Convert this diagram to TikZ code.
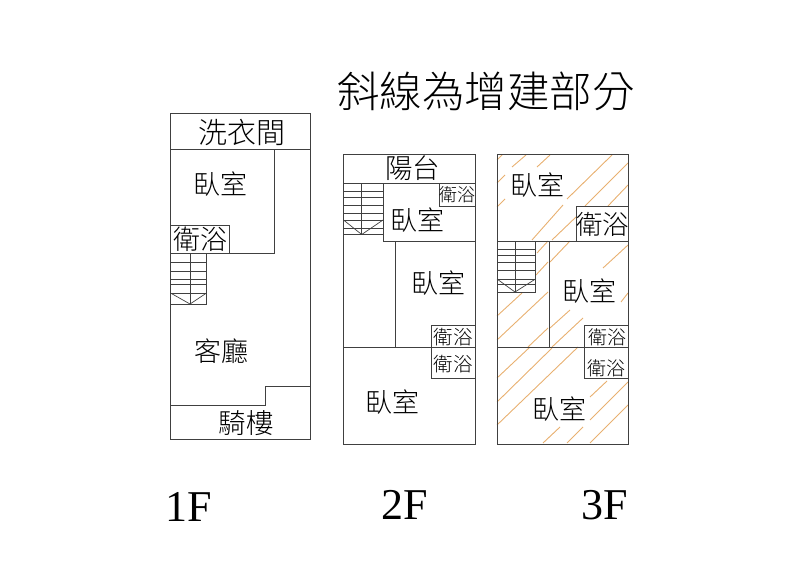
\documentclass[tikz,border=0pt]{standalone}
\usepackage{fontspec}
\setmainfont{Liberation Serif}
\newfontfamily\cjk{Noto Sans CJK TC Light}
\definecolor{hatchcol}{RGB}{232,176,112}
\tikzset{
  wall/.style={draw=black!75,line width=0.9pt,line cap=rect},
  tread/.style={draw=black!75,line width=0.7pt},
  hatch/.style={draw=hatchcol,line width=0.9pt},
  lbl/.style={inner sep=0pt,font=\cjk\fontsize{#1}{#1}\selectfont,text=black},
  flr/.style={inner sep=0pt,anchor=base,font=\fontsize{44}{44}\selectfont,text=black},
}
\begin{document}
\begin{tikzpicture}[x=1pt,y=-1pt]
\useasboundingbox (0,0) rectangle (800,565);
% hatch of 3F
\foreach \a/\b/\c/\d in {
 497/160/502.5/154.5, 497/183/505/175, 497/207/505/199,
 512/167/526/155, 537/167/550/155, 567/199/612/155,
 585/206/628/163, 608/206/628/185,
 532/240/563/205, 552/240/576/217,
 537/253/548/241, 536/275/548/262, 550/262/570/241,
 603/268/628/245, 621/302/628/293,
 497/316/522/293, 497/340/548/292,
 528/347/548/328, 550/328/570/310, 552/347/583/318,
 497/378/530/347, 497/402/552/348, 497/425/578/347,
 543/443/560/427, 567/443/583/427,
 590/397/607/381, 590/420/628/382, 590/443/628/405
}{\draw[hatch] (\a,\b) -- (\c,\d);}
% 1F
\draw[wall] (170.5,113.5) rectangle (310.5,439);
\draw[wall] (170.5,149) -- (310.5,149);
\draw[wall] (274,149) -- (274,253) -- (170.5,253);
\draw[wall] (170.5,225.5) -- (229,225.5) -- (229,253);
\draw[wall] (170.5,405) -- (265,405) -- (265,386) -- (310.5,386);
\draw[tread] (206.5,253) -- (206.5,304) -- (170.5,304) (190,253) -- (190,304);
\foreach \y in {262,271,279,284,293} {\draw[tread] (170.5,\y) -- (206.5,\y);}
\draw[tread] (170.5,293) -- (190,304) -- (206.5,293);
% 2F
\draw[wall] (343.5,154) rectangle (475,444);
\draw[wall] (343.5,183) -- (475,183);
\draw[wall] (383,183) -- (383,241) -- (475,241);
\draw[wall] (395.5,241) -- (395.5,347);
\draw[wall] (343.5,347) -- (475,347);
\draw[wall] (439.5,183) -- (439.5,206) -- (475,206);
\draw[wall] (475,325.5) -- (431,325.5) -- (431,378) -- (475,378);
\draw[tread] (343.5,234.5) -- (383,234.5) (361.7,183) -- (361.7,234.5);
\foreach \y in {191,197,205,213,220,228} {\draw[tread] (343.5,\y) -- (383,\y);}
\draw[tread] (343.5,220) -- (361.7,234.5) -- (383,220);
% 3F
\draw[wall] (497,154) rectangle (628.5,444);
\draw[wall] (497,241) -- (628.5,241);
\draw[wall] (628.5,206) -- (576,206) -- (576,241);
\draw[wall] (549,241) -- (549,347);
\draw[wall] (497,347) -- (628.5,347);
\draw[wall] (628.5,325.5) -- (584,325.5) -- (584,378) -- (628.5,378);
\draw[tread] (535.5,241) -- (535.5,292) -- (497,292) (515,241) -- (515,292);
\foreach \y in {249,255,262,270,279,284} {\draw[tread] (497,\y) -- (535.5,\y);}
\draw[tread] (497,279) -- (515,292) -- (535.5,279);
% labels
\node[lbl=42.5] (title) at (486,91) {斜線為增建部分};
\node[lbl=29] (laundry) at (241.5,132) {洗衣間};
\node[lbl=27] (bed1) at (220.5,184.5) {臥室};
\node[lbl=27] (bath1) at (200.5,239) {衛浴};
\node[lbl=27] (living) at (221.5,351) {客廳};
\node[lbl=27.5] (arcade) at (246,423) {騎樓};
\node[lbl=27.5] (balcony) at (412.5,168) {陽台};
\node[lbl=18] (bath2a) at (457.5,195) {衛浴};
\node[lbl=27] (bed2a) at (417,220.5) {臥室};
\node[lbl=27] (bed2b) at (438.5,283) {臥室};
\node[lbl=19.5] (bath2b) at (453,337) {衛浴};
\node[lbl=19.5] (bath2c) at (453,364) {衛浴};
\node[lbl=27] (bed2c) at (392,402) {臥室};
\node[lbl=27] (bed3a) at (537,185) {臥室};
\node[lbl=26.5] (bath3a) at (602.5,224) {衛浴};
\node[lbl=27] (bed3b) at (589,291) {臥室};
\node[lbl=19] (bath3b) at (607.5,337) {衛浴};
\node[lbl=19] (bath3c) at (606,368) {衛浴};
\node[lbl=27] (bed3c) at (559,409) {臥室};
\node[flr] (f1) at (189,521) {1F};
\node[flr] (f2) at (405,519) {2F};
\node[flr] (f3) at (605,519) {3F};
\end{tikzpicture}
\end{document}
